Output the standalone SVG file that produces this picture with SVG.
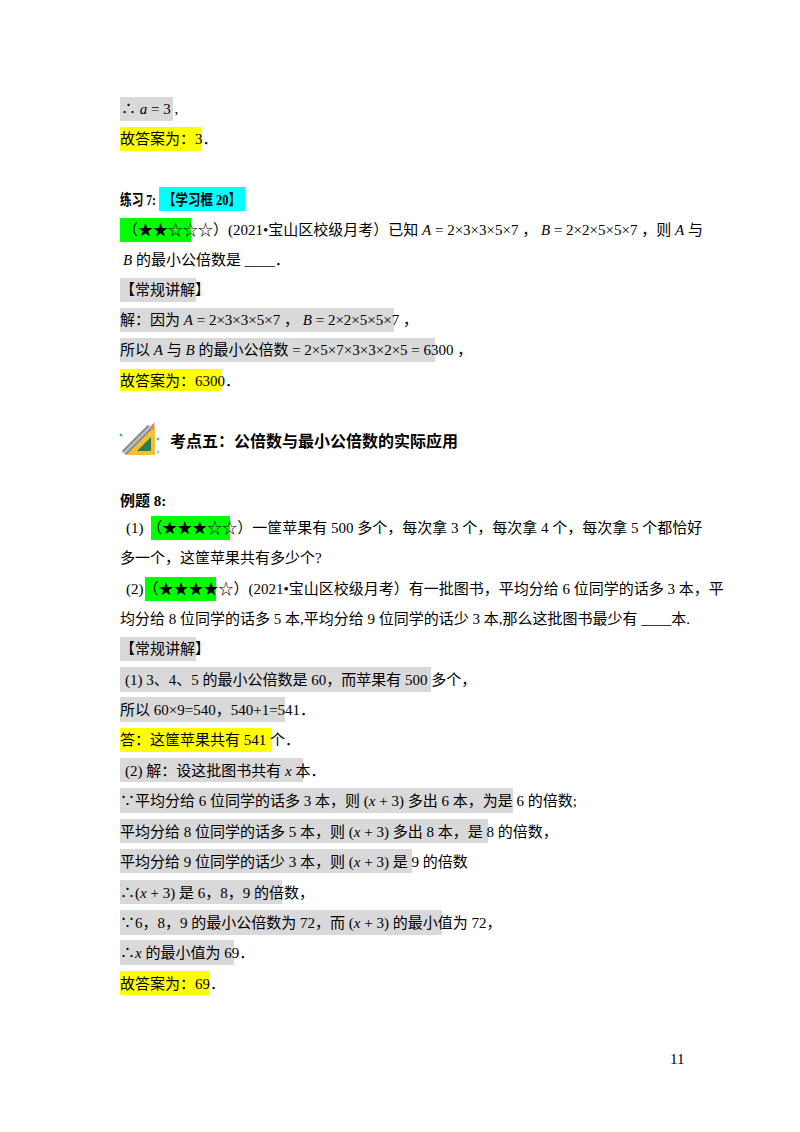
<svg xmlns="http://www.w3.org/2000/svg" width="800" height="1132" viewBox="0 0 800 1132">
<style>
text{font-family:"Liberation Serif","Noto Sans CJK SC",serif;font-size:15px;fill:#000}
.b{font-weight:bold}
.h{font-family:"Noto Sans CJK SC","Liberation Sans",sans-serif;font-weight:bold;font-size:16px}
.i{font-style:italic}
.g{fill:#d9d9d9}.y{fill:#ffff00}.gr{fill:#00ff00}.c{fill:#00ffff}
</style>
<rect width="800" height="1132" fill="#fff"/>
<g id="highlights">
<rect class="g" x="120" y="97" width="53" height="24"/>
<rect class="y" x="120" y="127" width="82" height="24"/>
<rect class="c" x="159" y="187" width="86" height="24"/>
<rect class="gr" x="120" y="218" width="71" height="24"/>
<rect class="g" x="120" y="278" width="76" height="24"/>
<rect class="g" x="120" y="308" width="274" height="24"/>
<rect class="g" x="120" y="338" width="315" height="24"/>
<rect class="y" x="120" y="369" width="101" height="22"/>
<rect class="gr" x="151" y="516" width="79" height="24"/>
<rect class="gr" x="145" y="577" width="71" height="24"/>
<rect class="g" x="120" y="637" width="76" height="24"/>
<rect class="g" x="120" y="667" width="311" height="25"/>
<rect class="g" x="120" y="697" width="165" height="25"/>
<rect class="y" x="120" y="728" width="152" height="24"/>
<rect class="g" x="120" y="758" width="183" height="24"/>
<rect class="g" x="120" y="788" width="393" height="25"/>
<rect class="g" x="120" y="819" width="368" height="24"/>
<rect class="g" x="120" y="849" width="292" height="24"/>
<rect class="g" x="120" y="880" width="162" height="24"/>
<rect class="g" x="120" y="910" width="322" height="25"/>
<rect class="g" x="120" y="940" width="114" height="25"/>
<rect class="y" x="120" y="971" width="89" height="24"/>
</g>
<g id="icon">
<polygon points="126,455 155,426 155,455" fill="#f2c12e"/>
<polygon points="137,451 151,437 151,451" fill="#2e7d4f"/>
<line x1="124" y1="453" x2="150" y2="427" stroke="#7a7a7a" stroke-width="6"/>
<line x1="124" y1="453" x2="150" y2="427" stroke="#b9b9b9" stroke-width="3"/>
<polygon points="150,427 155,422 153,430" fill="#e57373"/>
<circle cx="121" cy="435" r="1.5" fill="#4db6ac"/><circle cx="158" cy="439" r="1.5" fill="#4db6ac"/><circle cx="158" cy="452" r="1.5" fill="#90caf9"/>
</g>
<g id="text">
<text x="121" y="114"><tspan>∴</tspan><tspan class="i"> a</tspan> = 3 ,</text>
<text x="120" y="144">故答案为：3．</text>
<text x="120" y="205" class="b" textLength="36" lengthAdjust="spacingAndGlyphs">练习 7:</text>
<text x="163" y="205" class="b" textLength="78" lengthAdjust="spacingAndGlyphs">【学习框 20】</text>
<text x="123" y="235">（★★☆☆☆）(2021•宝山区校级月考）已知 <tspan class="i">A</tspan> = 2×3×3×5×7 ， <tspan class="i">B</tspan> = 2×2×5×5×7 ，则 <tspan class="i">A</tspan> 与</text>
<text x="123" y="265"><tspan class="i">B</tspan> 的最小公倍数是 ____．</text>
<text x="120" y="295">【常规讲解】</text>
<text x="120" y="325">解：因为 <tspan class="i">A</tspan> = 2×3×3×5×7 ， <tspan class="i">B</tspan> = 2×2×5×5×7 ，</text>
<text x="120" y="355">所以 <tspan class="i">A</tspan> 与 <tspan class="i">B</tspan> 的最小公倍数 = 2×5×7×3×3×2×5 = 6300 ，</text>
<text x="120" y="386">故答案为：6300．</text>
<text x="170" y="447" class="h">考点五：公倍数与最小公倍数的实际应用</text>
<text x="120" y="506" class="b">例题 8:</text>
<text x="126" y="533">(1) （★★★☆☆）一筐苹果有 500 多个，每次拿 3 个，每次拿 4 个，每次拿 5 个都恰好</text>
<text x="120" y="563">多一个，这筐苹果共有多少个?</text>
<text x="126" y="594">(2)（★★★★☆）(2021•宝山区校级月考）有一批图书，平均分给 6 位同学的话多 3 本，平</text>
<text x="120" y="624">均分给 8 位同学的话多 5 本,平均分给 9 位同学的话少 3 本,那么这批图书最少有 ____本.</text>
<text x="120" y="654">【常规讲解】</text>
<text x="125" y="685">(1) 3、4、5 的最小公倍数是 60，而苹果有 500 多个，</text>
<text x="120" y="715">所以 60×9=540，540+1=541．</text>
<text x="120" y="745">答：这筐苹果共有 541 个．</text>
<text x="125" y="776">(2) 解：设这批图书共有 <tspan class="i">x</tspan> 本．</text>
<text x="120" y="806">∵平均分给 6 位同学的话多 3 本，则 (<tspan class="i">x</tspan> + 3) 多出 6 本，为是 6 的倍数;</text>
<text x="120" y="837">平均分给 8 位同学的话多 5 本，则 (<tspan class="i">x</tspan> + 3) 多出 8 本，是 8 的倍数，</text>
<text x="120" y="867">平均分给 9 位同学的话少 3 本，则 (<tspan class="i">x</tspan> + 3) 是 9 的倍数</text>
<text x="120" y="898">∴(<tspan class="i">x</tspan> + 3) 是 6，8，9 的倍数，</text>
<text x="120" y="928">∵6，8，9 的最小公倍数为 72，而 (<tspan class="i">x</tspan> + 3) 的最小值为 72，</text>
<text x="120" y="958">∴<tspan class="i">x</tspan> 的最小值为 69．</text>
<text x="120" y="989">故答案为：69．</text>
<text x="670" y="1064" font-size="13">11</text>
</g>
</svg>
